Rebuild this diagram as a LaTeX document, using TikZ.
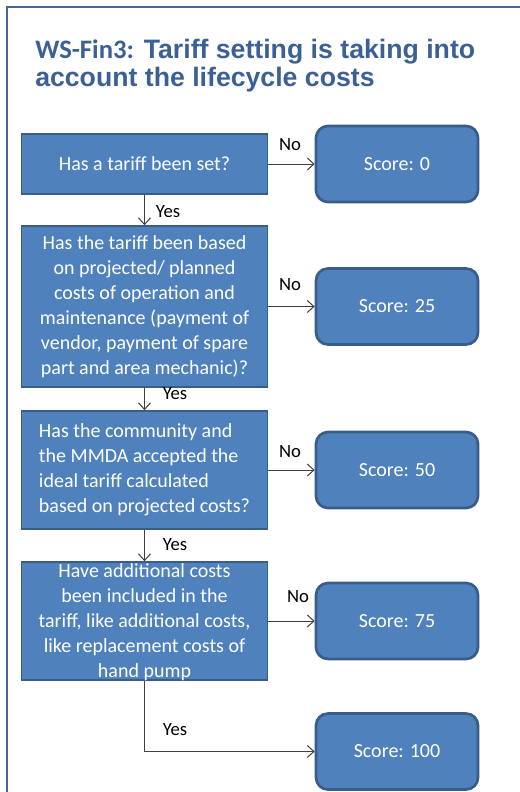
\documentclass[tikz,border=0pt]{standalone}
\usepackage{fontspec}
\setmainfont{Carlito}
\newfontfamily\arialfont{Liberation Sans}
\usepackage{tikz}
\usetikzlibrary{arrows.meta}
\definecolor{boxblue}{HTML}{4F81BD}
\definecolor{boxedge}{HTML}{385D8A}
\definecolor{titleblue}{HTML}{3A6095}
\definecolor{framegray}{HTML}{4A6790}
\newcommand{\boxfont}{\fontsize{15}{18.75}\selectfont}

\begin{document}
\begin{tikzpicture}[x=0.75pt, y=-0.75pt, >={Straight Barb[length=5pt, width=9pt]},
    question/.style={draw=boxedge, line width=1.2pt, fill=boxblue, text=white,
        minimum width=184.5pt, inner sep=2pt, align=center, font=\boxfont},
    score/.style={draw=boxedge, line width=2pt, fill=boxblue, text=white, rounded corners=9pt,
        minimum width=121.5pt, minimum height=57pt, font=\boxfont},
    answer/.style={font=\fontsize{14}{16}\selectfont},
    link/.style={->, draw=black!75, line width=0.75pt}]
    \useasboundingbox (0,0) rectangle (520,792);

    % Slide frame
    \draw[framegray, line width=0.9pt] (7,792) -- (7,7) -- (520,7);

    % Title
    \node[anchor=base west, inner sep=0pt, align=left, text=titleblue,
          font=\arialfont\bfseries\fontsize{20}{21}\selectfont] (title) at (35,87)
        {{\rmfamily WS-Fin3:} Tariff setting is taking into\\account the lifecycle costs};

    % Questions
    \node[question, minimum height=45pt] (q1) at (144.5,164) {Has a tariff been set?};
    \node[question, minimum height=120.75pt] (q2) at (144.5,306.5)
        {Has the tariff been based\\on projected/ planned\\costs of operation and\\maintenance (payment of\\vendor, payment of spare\\part and area mechanic)?};
    \node[question, minimum height=88.5pt, align=left] (q3) at (144.5,470)
        {Has the community and\\the MMDA accepted the\\ideal tariff calculated\\based on projected costs?};
    \node[question, minimum height=88.5pt] (q4) at (144.5,621) {};
    \node[align=center, text=white, font=\boxfont, inner sep=0pt] (q4text) at (144.5,622)
        {Have additional costs\\been included in the\\tariff, like additional costs,\\like replacement costs of\\hand pump};

    % Scores
    \node[score] (s0) at (397,164) {Score: 0};
    \node[score] (s25) at (397,306.5) {Score: 25};
    \node[score] (s50) at (397,470) {Score: 50};
    \node[score] (s75) at (397,621) {Score: 75};
    \node[score] (s100) at (397,751.5) {Score: 100};

    % No branches
    \draw[link] (q1) -- (s0);
    \draw[link] (q2) -- (s25);
    \draw[link] (q3) -- (s50);
    \draw[link] (q4) -- (s75);
    \node[answer] (no1) at (290,145) {No};
    \node[answer] (no2) at (290,285) {No};
    \node[answer] (no3) at (290,452) {No};
    \node[answer] (no4) at (298,597) {No};

    % Yes branches
    \draw[link] (q1) -- (q2);
    \draw[link] (q2) -- (q3);
    \draw[link] (q3) -- (q4);
    \draw[link] (q4.south) |- (s100.west);
    \node[answer] (yes1) at (168,212) {Yes};
    \node[answer] (yes2) at (175,394) {Yes};
    \node[answer] (yes3) at (175,545) {Yes};
    \node[answer] (yes4) at (175,730) {Yes};

\end{tikzpicture}
\end{document}
